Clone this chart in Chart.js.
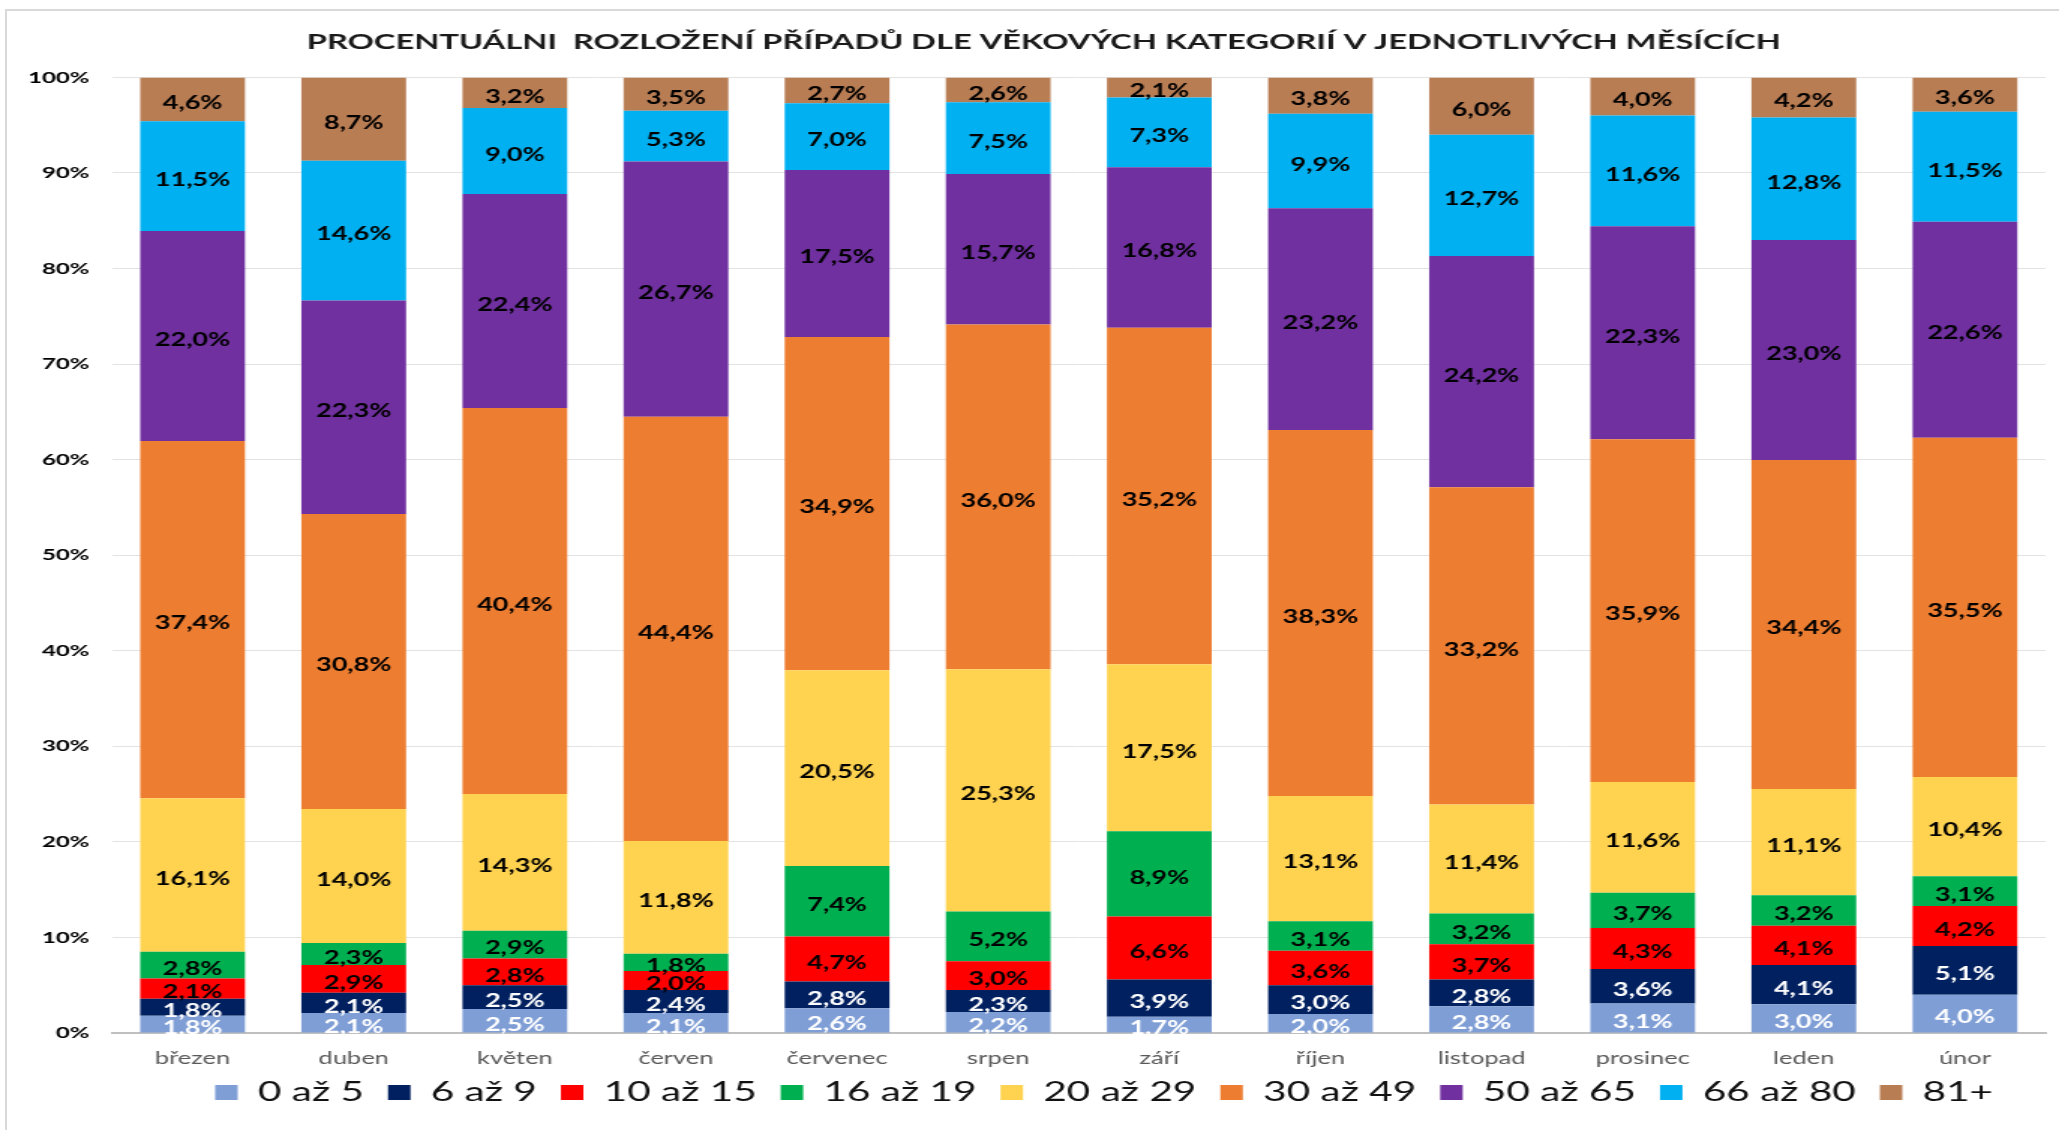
<!DOCTYPE html>
<html lang="cs">
<head>
<meta charset="utf-8">
<title>Procentuální rozložení případů dle věkových kategorií</title>
<script src="https://cdn.jsdelivr.net/npm/chart.js@4.4.1/dist/chart.umd.min.js"></script>
<style>
  html, body { margin: 0; padding: 0; background: #fff; overflow: hidden; }
  #frame { position: absolute; left: 5px; top: 9px; width: 2100px; height: 1200px; border: 2px solid #d9d9d9; }
  #chart { position: absolute; left: 0; top: 0; }
</style>
</head>
<body>
<div id="frame"></div>
<!-- drawn at 2/3 width, stretched to the window width like the source picture -->
<canvas id="chart" width="1373" height="1130" style="width:2059px;height:1130px"></canvas>
<script>
const MONTHS = ["březen", "duben", "květen", "červen", "červenec", "srpen", "září", "říjen", "listopad", "prosinec", "leden", "únor"];
const GROUPS = ["0 až 5", "6 až 9", "10 až 15", "16 až 19", "20 až 29", "30 až 49", "50 až 65", "66 až 80", "81+"];
const Y_TICKS = [0, 10, 20, 30, 40, 50, 60, 70, 80, 90, 100];

// percent per age group, one value per month (as printed in the bars)
const AGE_0_5   = [1.8, 2.1, 2.5, 2.1, 2.6, 2.2, 1.7, 2.0, 2.8, 3.1, 3.0, 4.0];
const AGE_6_9   = [1.8, 2.1, 2.5, 2.4, 2.8, 2.3, 3.9, 3.0, 2.8, 3.6, 4.1, 5.1];
const AGE_10_15 = [2.1, 2.9, 2.8, 2.0, 4.7, 3.0, 6.6, 3.6, 3.7, 4.3, 4.1, 4.2];
const AGE_16_19 = [2.8, 2.3, 2.9, 1.8, 7.4, 5.2, 8.9, 3.1, 3.2, 3.7, 3.2, 3.1];
const AGE_20_29 = [16.1, 14.0, 14.3, 11.8, 20.5, 25.3, 17.5, 13.1, 11.4, 11.6, 11.1, 10.4];
const AGE_30_49 = [37.4, 30.8, 40.4, 44.4, 34.9, 36.0, 35.2, 38.3, 33.2, 35.9, 34.4, 35.5];
const AGE_50_65 = [22.0, 22.3, 22.4, 26.7, 17.5, 15.7, 16.8, 23.2, 24.2, 22.3, 23.0, 22.6];
const AGE_66_80 = [11.5, 14.6, 9.0, 5.3, 7.0, 7.5, 7.3, 9.9, 12.7, 11.6, 12.8, 11.5];
const AGE_81    = [4.6, 8.7, 3.2, 3.5, 2.7, 2.6, 2.1, 3.8, 6.0, 4.0, 4.2, 3.6];

const SERIES = [AGE_0_5, AGE_6_9, AGE_10_15, AGE_16_19, AGE_20_29, AGE_30_49, AGE_50_65, AGE_66_80, AGE_81];
const COLORS = ["#7f9ed6", "#002060", "#ff0000", "#00b050", "#ffd350", "#ed7d31", "#7030a0", "#00b0f0", "#b97d54"];
const LABEL_COLORS = ["#ffffff", "#ffffff", "#000000", "#000000", "#000000", "#000000", "#000000", "#000000", "#000000"];

const FONT = "Lato, 'Open Sans', sans-serif";
const fmt = (v) => v.toFixed(1).replace(".", ",") + "%";

// 100% stacked: each month is scaled to a full column, labels keep the printed values
const totals = MONTHS.map((_, i) => SERIES.reduce((s, arr) => s + arr[i], 0));

const segLabels = {
  id: "segLabels",
  afterDatasetsDraw(chart) {
    const ctx = chart.ctx;
    ctx.save();
    ctx.font = "bold 18px " + FONT;
    ctx.textAlign = "center";
    ctx.textBaseline = "middle";
    chart.data.datasets.forEach((ds, di) => {
      chart.getDatasetMeta(di).data.forEach((bar, i) => {
        ctx.fillStyle = LABEL_COLORS[di];
        ctx.fillText(fmt(ds.printed[i]), bar.x, (bar.y + bar.base) / 2 + 4);
      });
    });
    ctx.restore();
  },
};

// legend and title sit a little off the default layout grid in the original
const nudge = {
  id: "nudge",
  afterLayout(chart) {
    const lg = chart.legend;
    lg.top -= 14; lg.bottom -= 14;
    lg.left -= 19; lg.right -= 19;
    const t = chart.titleBlock;
    t.left += 8; t.right += 8;
  },
};

new Chart(document.getElementById("chart"), {
  type: "bar",
  data: {
    labels: MONTHS,
    datasets: SERIES.map((arr, k) => ({
      label: GROUPS[k],
      data: arr.map((v, i) => (v / totals[i]) * 100),
      printed: arr,
      backgroundColor: COLORS[k],
      borderWidth: 0,
      stack: "s",
      barPercentage: 0.65,
      categoryPercentage: 1,
    })),
  },
  options: {
    responsive: false,
    devicePixelRatio: 1,
    animation: false,
    layout: { padding: { left: 12, right: 9, top: 0, bottom: 0 } },
    plugins: {
      title: {
        display: true,
        text: "PROCENTUÁLNI  ROZLOŽENÍ PŘÍPADŮ DLE VĚKOVÝCH KATEGORIÍ V JEDNOTLIVÝCH MĚSÍCÍCH",
        color: "#1a1a1a",
        font: { family: FONT, size: 21.75, weight: "bold", lineHeight: 1.2 },
        padding: { top: 29.2, bottom: 22.1 },
      },
      legend: {
        position: "bottom",
        align: "end",
        labels: {
          color: "#111111",
          font: { family: FONT, size: 27 },
          boxWidth: 15,
          boxHeight: 15,
          padding: 16,
        },
      },
      tooltip: { enabled: false },
    },
    scales: {
      x: {
        stacked: true,
        grid: { display: false, drawTicks: false },
        border: { display: true, color: "#bfbfbf", width: 2 },
        ticks: { color: "#595959", font: { family: FONT, size: 17 }, padding: 15 },
        afterFit: (s) => { s.height = 44; },
      },
      y: {
        stacked: true,
        min: 0,
        max: 100,
        afterBuildTicks: (s) => { s.ticks = Y_TICKS.map((v) => ({ value: v })); },
        grid: { color: (c) => (c.tick.value === 0 ? "#bfbfbf" : "#e3e3e3"), lineWidth: 1, drawTicks: false },
        border: { display: false },
        ticks: { color: "#000000", font: { family: FONT, size: 16, weight: "bold" }, padding: 15, callback: (v) => v + "%" },
        afterFit: (s) => { s.width = 62.7; },
      },
    },
  },
  plugins: [segLabels, nudge],
});
</script>
</body>
</html>
